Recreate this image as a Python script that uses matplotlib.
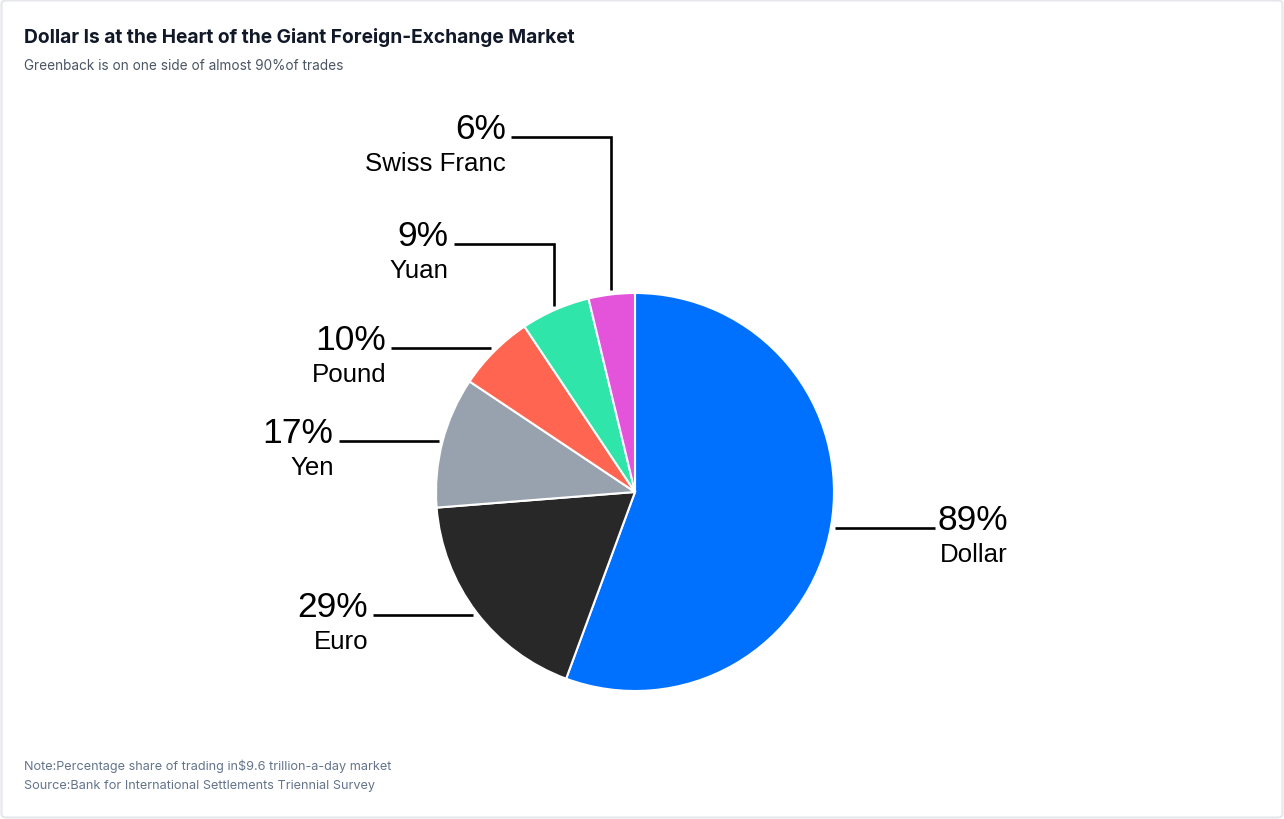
import matplotlib
matplotlib.use("Agg")
import matplotlib.pyplot as plt
import numpy as np
from matplotlib.patches import FancyBboxPatch

# ---- data ----
currencies = ["Dollar", "Euro", "Yen", "Pound", "Yuan", "Swiss Franc"]
shares = [89, 29, 17, 10, 9, 6]
colors = ["#0070ff", "#282828", "#98a2ae", "#ff6550", "#30e5aa", "#e354da"]

title = "Dollar Is at the Heart of the Giant Foreign-Exchange Market"
subtitle = "Greenback is on one side of almost 90%of trades"
note = "Note:Percentage share of trading in$9.6 trillion-a-day market"
source = "Source:Bank for International Settlements Triennial Survey"

# ---- layout (pixels, y measured from top) ----
W, H = 1284, 820
cx, cy, R = 635, 493, 199
# label line heights for crowded slices (pixels from top)
label_line_y = {"Yuan": 245, "Swiss Franc": 138}
line_len = 100

fig = plt.figure(figsize=(W / 100, H / 100), dpi=100)
ax = fig.add_axes([0, 0, 1, 1])

def Y(py):
    return H - py

wedges, _ = ax.pie(shares, colors=colors, startangle=90, counterclock=False,
                   center=(cx, Y(cy)), radius=R, frame=True,
                   wedgeprops=dict(edgecolor="white", linewidth=1.5))
ax.set_xlim(0, W)
ax.set_ylim(0, H)
ax.axis("off")

lab_font = "Liberation Sans"
for w, name, val in zip(wedges, currencies, shares):
    mid = np.deg2rad((w.theta1 + w.theta2) / 2)
    ex = cx + (R + 4) * np.cos(mid)
    ey = Y(cy) + (R + 4) * np.sin(mid)
    right = np.cos(mid) > 0
    if name in label_line_y:
        ly = Y(label_line_y[name])
        xs = [ex, ex, ex - line_len]
        ys = [ey, ly, ly]
    else:
        ly = ey
        xs = [ex, ex + line_len] if right else [ex, ex - line_len]
        ys = [ly, ly]
    ax.plot(xs, ys, color="black", lw=1.9, solid_capstyle="butt",
            solid_joinstyle="miter")
    if right:
        tx, ha = xs[-1] + 3, "left"
    else:
        tx, ha = xs[-1] - 5, "right"
    ax.text(tx, ly - 1, f"{val}%", ha=ha, va="baseline", fontsize=25.5,
            family=lab_font, color="black")
    ax.text(tx + (2 if right else 0), ly - 33, name, ha=ha, va="baseline",
            fontsize=18.6, family=lab_font, color="black")

# titles
fig.text(24 / W, 1 - 43 / H, title, fontsize=13.8, fontweight="bold",
         family="Inter", color="#111827", ha="left", va="baseline")
fig.text(24 / W, 1 - 70 / H, subtitle, fontsize=9.8, family="Inter",
         color="#4b5563", ha="left", va="baseline")
fig.text(24 / W, 1 - 770 / H, note, fontsize=9.15, family="Inter",
         color="#64748b", ha="left", va="baseline")
fig.text(24 / W, 1 - 789 / H, source, fontsize=9.15, family="Inter",
         color="#64748b", ha="left", va="baseline")

# border
border = FancyBboxPatch((1.5 / W, 1.5 / H), 1 - 3 / W, 1 - 3 / H,
                        boxstyle="round,pad=0,rounding_size=0.004",
                        transform=fig.transFigure, fill=False,
                        edgecolor="#e5e7eb", linewidth=1.5)
fig.patches.append(border)

fig.savefig("out.png", dpi=100, facecolor="white")
